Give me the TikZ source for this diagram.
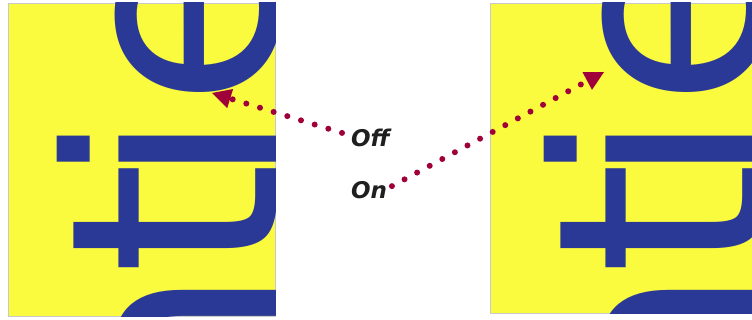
\documentclass[tikz,border=0pt]{standalone}
\usepackage{fontspec}
\usetikzlibrary{arrows.meta}
\newfontfamily\letterfont{DejaVu Sans}
\newfontfamily\labelfont{DejaVu Sans}[BoldItalicFont={DejaVu Sans Bold Oblique}]
\definecolor{yel}{RGB}{250,250,62}
\definecolor{blu}{RGB}{43,57,150}
\definecolor{maroon}{RGB}{160,0,58}
\definecolor{edge}{RGB}{200,200,205}
\tikzset{
  panel/.style={fill=yel, draw=edge, line width=0.8pt},
  letters/.style={rotate=90, anchor=base west, inner sep=0pt, outer sep=0pt, text=blu,
    font=\letterfont\fontsize{290}{290}\selectfont},
  lbl/.style={anchor=base west, inner sep=0pt, outer sep=0pt, text={black!88},
    font=\labelfont\bfseries\itshape\fontsize{23}{23}\selectfont},
  dotarrow/.style={draw=maroon, line width=6pt, line cap=round,
    dash pattern=on 0pt off 14.3pt,
    -{Triangle[length=19pt, width=20pt, line width=0pt 0]}}
}
\begin{document}
\begin{tikzpicture}[x=1pt,y=-1pt]
\useasboundingbox (0,0) rectangle (752,320);
\fill[white] (0,0) rectangle (752,320);
% panels
\path[panel] (8,3) rectangle (275,316);
\path[panel] (490,3) rectangle (752,313);
% labels
\node[lbl] (off) at (351,146.5) {Off};
\node[lbl] (on) at (351,198.5) {On};
% arrow ends
\coordinate (offtip) at (212,93);
\coordinate (ontip) at (604,72);
\draw[dotarrow] ([xshift=-9pt,yshift=5pt]off.west) -- (offtip);
\draw[dotarrow] ([xshift=5pt,yshift=4pt]on.east) -- (ontip);
% big rotated letters, cropped by the panels
\begin{scope}
  \clip (8,3) rectangle (275,316);
  \node[letters] (wl) at (277,449.8) {n\kern-10pt t\kern-27pt ie};
\end{scope}
\begin{scope}
  \clip (490,3) rectangle (752,313);
  \node[letters] (wr) at (764,449.8) {n\kern-10pt t\kern-27pt ie};
\end{scope}
\end{tikzpicture}
\end{document}
